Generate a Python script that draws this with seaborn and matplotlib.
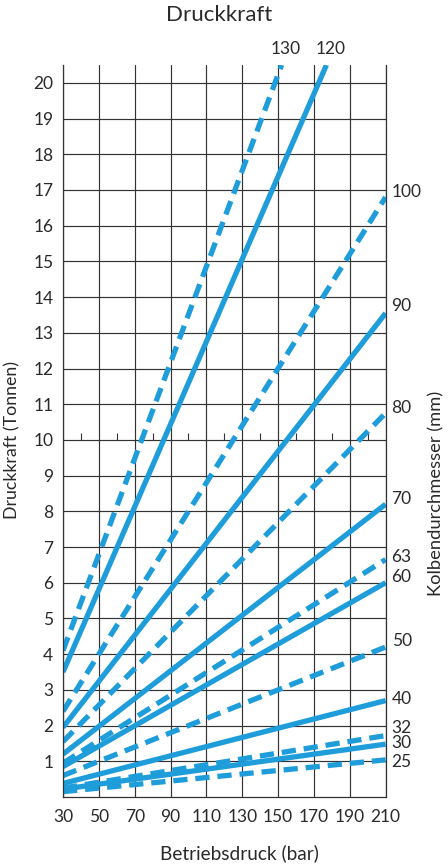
import matplotlib
matplotlib.use("Agg")
import matplotlib.pyplot as plt
import seaborn as sns
import pandas as pd
import numpy as np

# ---- data ----
diameters = [130, 120, 100, 90, 80, 70, 63, 60, 50, 40, 32, 30, 25]
p_start = [30, 30, 30, 30, 30, 30, 30, 30, 30, 30, 30, 30, 30]
p_end = [152, 177, 210, 210, 210, 210, 210, 210, 210, 210, 210, 210, 210]
f_start = [4.1, 3.5, 2.4, 1.95, 1.55, 1.2, 0.95, 0.85, 0.6, 0.38, 0.25, 0.22, 0.15]
f_end = [20.5, 20.5, 16.8, 13.55, 10.75, 8.2, 6.65, 6.0, 4.2, 2.7, 1.72, 1.48, 1.04]
dashed = [True, False, True, False, True, False, True, False, True, False, True, False, True]
x_ticks = [30, 50, 70, 90, 110, 130, 150, 170, 190, 210]
y_ticks = list(range(1, 21))

# ---- styling ----
sns.set_theme(style="white")
plt.rcParams["font.family"] = ["Lato", "DejaVu Sans"]
color = "#1e9dda"
gridc = "#333333"
txtc = "#2a2a2a"
fs = 12.5

rows = []
for d, p0, p1, f0, f1 in zip(diameters, p_start, p_end, f_start, f_end):
    rows.append({"Druck": p0, "Kraft": f0, "D": d})
    rows.append({"Druck": p1, "Kraft": f1, "D": d})
df = pd.DataFrame(rows)

fig = plt.figure(figsize=(4.48, 8.64), dpi=100)
ax = fig.add_axes([63 / 448, 1 - 797 / 864, (385.6 - 63) / 448, (797 - 65) / 864])

ax.set_xlim(30, 210)
ax.set_ylim(0, 20.5)
ax.set_xticks(x_ticks)
ax.set_yticks(y_ticks)
ax.set_xticks(np.arange(40, 210, 20), minor=True)
ax.grid(True, which="major", color=gridc, linewidth=0.85)
ax.set_axisbelow(True)
for side in ["left", "bottom", "right"]:
    ax.spines[side].set_color(gridc)
    ax.spines[side].set_linewidth(0.9)
ax.spines["top"].set_visible(False)
ax.tick_params(axis="x", which="major", length=0, pad=9, labelsize=fs, colors=txtc)
ax.tick_params(axis="x", which="minor", length=6, width=0.8, direction="out", color=gridc)
ax.tick_params(axis="y", which="major", length=0, pad=7, labelsize=fs, colors=txtc)

# small ticks on the 10-t line
sec = ax.secondary_xaxis(10 / 20.5)
sec.set_xticks([])
sec.set_xticks(np.arange(40, 210, 20), minor=True)
sec.tick_params(which="minor", direction="in", length=5, width=0.8, color=gridc)
sec.tick_params(which="major", length=0, labelbottom=False)
sec.spines["bottom"].set_visible(False)
sec.spines["top"].set_visible(False)

palette = {d: color for d in diameters}
dash_map = {d: ((2.7, 1.5) if ds else "") for d, ds in zip(diameters, dashed)}
sns.lineplot(data=df, x="Druck", y="Kraft", hue="D", style="D", palette=palette,
             dashes=dash_map, linewidth=3.8, legend=False, ax=ax, estimator=None,
             sort=True)
for ln in ax.get_lines():
    ln.set_solid_capstyle("butt")
    ln.set_dash_capstyle("butt")
ax.set_xlabel("")
ax.set_ylabel("")

# labels of the diameters (offsets in pixels)
label_dy = {100: 5, 90: 7, 80: 5, 70: 5, 63: 3, 60: 6, 50: 6, 40: 2, 32: 8, 30: 1, 25: -2}
for d, p1, f1 in zip(diameters, p_end, f_end):
    if f1 >= 20.5:
        ax.annotate(str(d), xy=(p1, f1), xytext=(4, 16), textcoords="offset pixels",
                    ha="center", va="center", fontsize=fs, color=txtc,
                    annotation_clip=False)
    else:
        ax.annotate(str(d), xy=(p1, f1), xytext=(6, label_dy.get(d, 4)),
                    textcoords="offset pixels", ha="left", va="center",
                    fontsize=fs, color=txtc, annotation_clip=False)

fig.text(219 / 448, 1 - 15 / 864, "Druckkraft", ha="center", va="center",
         fontsize=16, color=txtc)
fig.text(239 / 448, 1 - 853 / 864, "Betriebsdruck (bar)", ha="center", va="center",
         fontsize=13.7, color=txtc)
fig.text(12 / 448, 1 - 440 / 864, "Druckkraft (Tonnen)", ha="center", va="center",
         rotation=90, fontsize=12.8, color=txtc)
fig.text(436 / 448, 1 - 493 / 864, "Kolbendurchmesser (mm)", ha="center", va="center",
         rotation=90, fontsize=13.2, color=txtc)

fig.savefig("out.png", dpi=100)
